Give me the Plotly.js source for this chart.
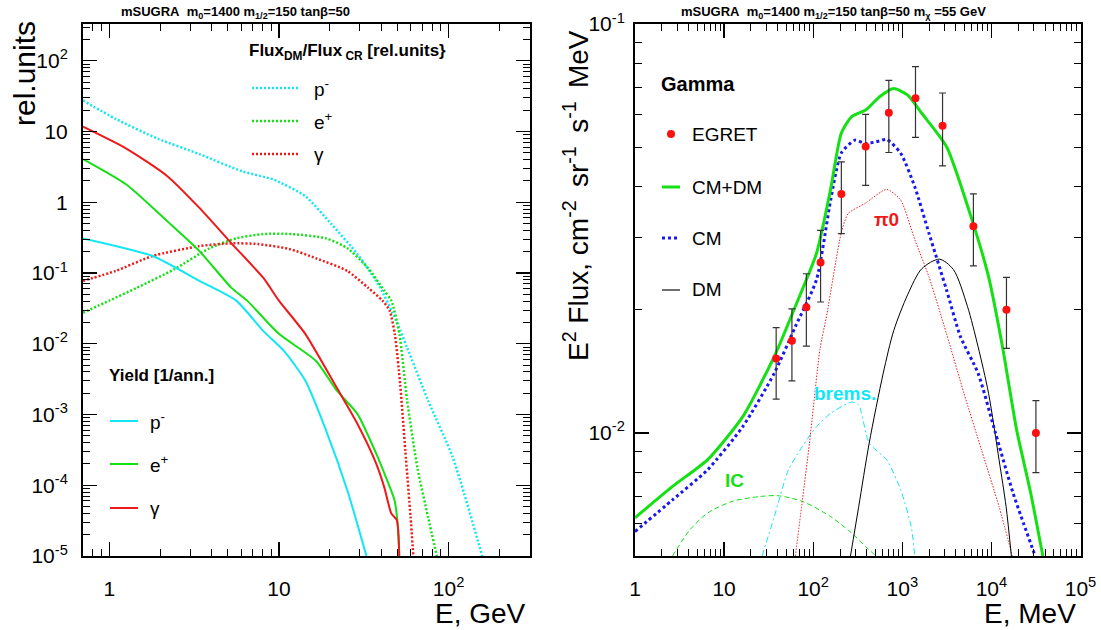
<!DOCTYPE html>
<html>
<head>
<meta charset="utf-8">
<script src="https://cdn.plot.ly/plotly-3.0.1.min.js"></script>
<style>html,body{margin:0;padding:0;background:#fff;}#plot{width:1101px;height:630px;}</style>
</head>
<body>
<div id="plot"></div>
<script>
// ---------- Left panel data (E in GeV) ----------
const yieldPbarE = [0.7, 1.8, 3.4, 5.6, 8.1, 10.7, 14.3, 19, 25.3, 32.8];
const yieldPbarV = [0.309, 0.174, 0.0776, 0.0407, 0.0151, 0.00794, 0.00302, 0.000589, 0.0000851, 0.00001];

const yieldPosE = [0.7, 1.26, 2.2, 3.4, 5.25, 6.5, 10, 16.5, 21.9, 29, 37.4, 41.8, 48, 50.3, 51.2];
const yieldPosV = [4.07, 1.78, 0.537, 0.204, 0.0617, 0.0407, 0.0138, 0.00575, 0.00219, 0.00102, 0.000282, 0.000148, 0.0000617, 0.0000257, 0.00001];

const yieldGamE = [0.7, 1.26, 2.2, 3.4, 5.25, 8.1, 10, 14.3, 21.9, 29, 37.4, 41.8, 46, 49.5, 51.2];
const yieldGamV = [11.7, 5.75, 2.34, 0.832, 0.263, 0.0851, 0.0407, 0.0138, 0.0024, 0.00074, 0.000204, 0.0000933, 0.0000398, 0.0000324, 0.00001];

const ratioPbarE = [0.7, 1.09, 1.93, 3.4, 6.05, 9.3, 14.3, 20.4, 29, 39, 49.2, 56.9, 75.7, 105.7, 158];
const ratioPbarV = [27.5, 15.1, 7.94, 4.79, 2.75, 2.09, 1.22, 0.49, 0.186, 0.066, 0.0209, 0.0089, 0.00158, 0.000251, 0.00001];

const ratioPosE = [0.7, 1.0, 1.45, 2.4, 3.9, 5.6, 8.1, 12, 19, 25.3, 33.6, 41.8, 46, 51.3, 56.9, 65.6, 75.7, 85.3];
const ratioPosV = [0.0275, 0.0407, 0.0617, 0.112, 0.224, 0.309, 0.355, 0.355, 0.309, 0.224, 0.117, 0.0562, 0.0407, 0.0138, 0.00162, 0.000174, 0.0000355, 0.00001];

const ratioGamE = [0.7, 1.09, 1.8, 3.4, 5.25, 7.5, 11.5, 16.5, 25.3, 33.6, 40.8, 44.9, 48.2, 51.8, 55.6, 59.7, 62];
const ratioGamV = [0.0776, 0.107, 0.174, 0.24, 0.263, 0.257, 0.219, 0.162, 0.107, 0.0617, 0.0407, 0.0295, 0.0138, 0.00275, 0.000309, 0.0000355, 0.00001];

// ---------- Right panel data (E in MeV) ----------
const egretE = [38.4, 57.7, 83.8, 121, 207, 388, 706, 1406, 2830, 6280, 14760, 31600];
const egretV = [0.0152, 0.0168, 0.0203, 0.0261, 0.0384, 0.0502, 0.0607, 0.0658, 0.0564, 0.032, 0.02, 0.01];
const egretErrUp = [0.0029, 0.0033, 0.0042, 0.0052, 0.0076, 0.0099, 0.0121, 0.0129, 0.0114, 0.0064, 0.004, 0.002];
const egretErrDn = [0.0031, 0.0034, 0.0040, 0.0052, 0.0077, 0.0099, 0.0122, 0.0130, 0.0114, 0.0064, 0.0039, 0.002];

const cmdmE = [1, 2.64, 6.5, 16.2, 36.6, 63.1, 109, 157, 206, 269, 388, 557, 802, 1150, 1653, 3140, 5900, 9290, 13300, 19200, 27600, 37800];
const cmdmV = [0.0062, 0.0074, 0.00859, 0.01096, 0.01538, 0.0204, 0.0275, 0.0395, 0.054, 0.0593, 0.0616, 0.0664, 0.0695, 0.067, 0.0605, 0.0501, 0.0338, 0.0241, 0.01626, 0.01017, 0.00713, 0.005];

const cmE = [1, 2.64, 6.5, 16.2, 36.6, 63.1, 109, 157, 206, 295, 388, 509, 668, 960, 1380, 1990, 3130, 4490, 7080, 11100, 17500, 30200];
const cmV = [0.00574, 0.00686, 0.00812, 0.01036, 0.014, 0.0182, 0.0237, 0.0371, 0.0483, 0.052, 0.051, 0.0515, 0.0522, 0.0483, 0.04, 0.0308, 0.0224, 0.0172, 0.014, 0.01, 0.00713, 0.00508];

const pi0E = [63.1, 75.7, 90.8, 119, 143, 206, 247, 388, 668, 960, 1380, 1990, 3130, 4920, 7740, 12190, 17180];
const pi0V = [0.005, 0.00686, 0.00944, 0.016, 0.0196, 0.0308, 0.0344, 0.0365, 0.0394, 0.0371, 0.0297, 0.0241, 0.0175, 0.0125, 0.00909, 0.0066, 0.005];

const dmE = [262, 324, 425, 611, 802, 1151, 1652, 2606, 3741, 5383, 7080, 9290, 12190, 14620, 16750];
const dmV = [0.005, 0.0066, 0.00944, 0.0140, 0.0178, 0.0218, 0.0252, 0.0266, 0.0251, 0.0204, 0.01626, 0.0125, 0.00859, 0.0066, 0.005];

const bremsE = [26.7, 36.6, 52.7, 75.7, 109, 157, 270, 324, 425, 668, 960, 1259, 1380];
const bremsV = [0.005, 0.00624, 0.00812, 0.00927, 0.01036, 0.01117, 0.0119, 0.0117, 0.00944, 0.00859, 0.00726, 0.0059, 0.005];

const icE = [2.64, 4.15, 6.55, 12.3, 25.5, 40.2, 75.7, 157, 270, 388, 509];
const icV = [0.005, 0.0058, 0.00637, 0.0068, 0.00699, 0.00702, 0.0068, 0.00624, 0.00569, 0.00527, 0.005];

// ---------- tick labels ----------
const leftXTicks = [1, 10, 100];
const leftXLabels = ['1', '10', '10<sup>2</sup>'];
const leftYTicks = [1e-5, 1e-4, 1e-3, 1e-2, 1e-1, 1, 10, 100];
const leftYLabels = ['10<sup>-5</sup>', '10<sup>-4</sup>', '10<sup>-3</sup>', '10<sup>-2</sup>', '10<sup>-1</sup>', '1', '10', '10<sup>2</sup>'];
const rightXTicks = [1, 10, 100, 1000, 10000, 100000];
const rightXLabels = ['1', '10', '10<sup>2</sup>', '10<sup>3</sup>', '10<sup>4</sup>', '10<sup>5</sup>'];
const rightYTicks = [0.01, 0.1];
const rightYLabels = ['10<sup>-2</sup>', '10<sup>-1</sup>'];

function minorVals(lo, hi) {
  const out = [];
  for (let d = lo; d <= hi; d++) {
    for (let m = 2; m <= 9; m++) out.push(m * Math.pow(10, d));
  }
  return out;
}

const CYAN = '#12e6f2', GREEN = '#14e014', RED = '#ee1a1a', BLUE = '#1818ee';
const FONT = 'Liberation Sans, Arial, Helvetica, sans-serif';

const W = 1101, H = 630;
const px = v => v / W;
const py = v => 1 - v / H;

const traces = [
  // left panel: ratios (dotted)
  {x: ratioPbarE, y: ratioPbarV, mode: 'lines', line: {color: CYAN, width: 2.5, dash: '2px,2px', shape: 'spline', smoothing: 0.6}, xaxis: 'x', yaxis: 'y'},
  {x: ratioPosE, y: ratioPosV, mode: 'lines', line: {color: GREEN, width: 2.5, dash: '2px,2px', shape: 'spline', smoothing: 0.6}, xaxis: 'x', yaxis: 'y'},
  {x: ratioGamE, y: ratioGamV, mode: 'lines', line: {color: RED, width: 2.5, dash: '2px,2px', shape: 'spline', smoothing: 0.6}, xaxis: 'x', yaxis: 'y'},
  // left panel: yields (solid)
  {x: yieldPbarE, y: yieldPbarV, mode: 'lines', line: {color: CYAN, width: 2, shape: 'spline', smoothing: 0.6}, xaxis: 'x', yaxis: 'y'},
  {x: yieldPosE, y: yieldPosV, mode: 'lines', line: {color: GREEN, width: 2, shape: 'spline', smoothing: 0.6}, xaxis: 'x', yaxis: 'y'},
  {x: yieldGamE, y: yieldGamV, mode: 'lines', line: {color: RED, width: 2, shape: 'spline', smoothing: 0.6}, xaxis: 'x', yaxis: 'y'},
  // right panel
  {x: icE, y: icV, mode: 'lines', line: {color: GREEN, width: 1, dash: '5px,3px', shape: 'spline', smoothing: 0.8}, xaxis: 'x2', yaxis: 'y2'},
  {x: bremsE, y: bremsV, mode: 'lines', line: {color: CYAN, width: 1, dash: '6px,3px,2px,3px', shape: 'spline', smoothing: 0.6}, xaxis: 'x2', yaxis: 'y2'},
  {x: pi0E, y: pi0V, mode: 'lines', line: {color: RED, width: 1, dash: '1.5px,1.5px', shape: 'spline', smoothing: 0.6}, xaxis: 'x2', yaxis: 'y2'},
  {x: dmE, y: dmV, mode: 'lines', line: {color: '#000', width: 1, shape: 'spline', smoothing: 0.8}, xaxis: 'x2', yaxis: 'y2'},
  {x: cmE, y: cmV, mode: 'lines', line: {color: BLUE, width: 3, dash: '3px,3px', shape: 'spline', smoothing: 0.6}, xaxis: 'x2', yaxis: 'y2'},
  {x: cmdmE, y: cmdmV, mode: 'lines', line: {color: GREEN, width: 3, shape: 'spline', smoothing: 0.6}, xaxis: 'x2', yaxis: 'y2'},
  {x: egretE, y: egretV, mode: 'markers', marker: {color: '#ff1010', size: 8},
   error_y: {type: 'data', symmetric: false, array: egretErrUp, arrayminus: egretErrDn, color: '#333', thickness: 1.2, width: 3.5},
   xaxis: 'x2', yaxis: 'y2'}
];

const axisCommon = {
  type: 'log', showline: true, linecolor: '#000', linewidth: 2, mirror: 'allticks',
  ticks: 'inside', ticklen: 14, tickwidth: 1.2, tickcolor: '#000',
  showgrid: false, zeroline: false, tickmode: 'array',
  tickfont: {family: FONT, size: 21, color: '#000'}
};
const minorCommon = {ticks: 'inside', ticklen: 7, tickwidth: 1, tickcolor: '#000', showgrid: false, tickmode: 'array'};

const yDom = [py(556), py(24)];

const layout = {
  width: W, height: H, margin: {l: 0, r: 0, t: 0, b: 0},
  paper_bgcolor: '#fff', plot_bgcolor: '#fff', showlegend: false,
  font: {family: FONT, color: '#000'},
  xaxis: Object.assign({}, axisCommon, {
    domain: [px(83), px(529.5)], anchor: 'y', range: [Math.log10(0.7), Math.log10(300)],
    tickvals: leftXTicks, ticktext: leftXLabels, ticklabelstandoff: 13,
    minor: Object.assign({}, minorCommon, {tickvals: [0.8, 0.9].concat(minorVals(0, 1), [200, 300])})
  }),
  yaxis: Object.assign({}, axisCommon, {
    domain: yDom, anchor: 'x', range: [-5, 2.52],
    tickvals: leftYTicks, ticktext: leftYLabels, ticklabelstandoff: 9,
    minor: Object.assign({}, minorCommon, {tickvals: minorVals(-5, 2)})
  }),
  xaxis2: Object.assign({}, axisCommon, {
    domain: [px(635), px(1080.5)], anchor: 'y2', range: [0, 5],
    tickvals: rightXTicks, ticktext: rightXLabels, ticklabelstandoff: 13,
    minor: Object.assign({}, minorCommon, {tickvals: minorVals(0, 4)})
  }),
  yaxis2: Object.assign({}, axisCommon, {
    domain: yDom, anchor: 'x2', range: [Math.log10(0.005), -1],
    tickvals: rightYTicks, ticktext: rightYLabels, ticklabelstandoff: 4,
    minor: Object.assign({}, minorCommon, {tickvals: minorVals(-3, -2)})
  }),
  annotations: [],
  shapes: []
};

function ann(text, x, y, opts) {
  layout.annotations.push(Object.assign({
    text: text, x: px(x), y: py(y), xref: 'paper', yref: 'paper', showarrow: false,
    xanchor: 'left', yanchor: 'middle', font: {family: FONT, size: 18, color: '#000'}
  }, opts || {}));
}
function seg(x0, x1, y, line) {
  layout.shapes.push({type: 'line', xref: 'paper', yref: 'paper', x0: px(x0), x1: px(x1), y0: py(y), y1: py(y), line: line});
}

// titles
ann('<b>mSUGRA\u00a0\u00a0m<sub>0</sub>=1400 m<sub>1/2</sub>=150 tanβ=50</b>', 235, 12, {xanchor: 'center', font: {family: FONT, size: 13}});
ann('<b>mSUGRA\u00a0\u00a0m<sub>0</sub>=1400 m<sub>1/2</sub>=150 tanβ=50 m<sub>χ</sub> =55 GeV</b>', 833, 12, {xanchor: 'center', font: {family: FONT, size: 13}});
// axis titles
ann('rel.units', 24, 74, {xanchor: 'center', textangle: -90, font: {family: FONT, size: 30}});
ann('E, GeV', 528, 613, {xanchor: 'right', font: {family: FONT, size: 28}});
ann('E<sup>2</sup> Flux, cm<sup>-2</sup>\u2009 sr<sup>-1</sup>\u2009 s<sup>-1</sup>\u2009 MeV', 576, 196, {xanchor: 'center', textangle: -90, font: {family: FONT, size: 28}});
ann('E, MeV', 1078, 613, {xanchor: 'right', font: {family: FONT, size: 28}});

// left legends
ann('<b>Flux<sub>DM</sub>/Flux<sub> CR</sub> [rel.units}</b>', 247, 52, {font: {family: FONT, size: 17}});
const upperLeg = [['p<sup>-</sup>', CYAN, 88], ['e<sup>+</sup>', GREEN, 121], ['γ', RED, 154]];
upperLeg.forEach(([t, c, y]) => { seg(252, 298, y, {color: c, width: 2.5, dash: '2px,2px'}); ann(t, 312, y, {font: {family: FONT, size: 19}}); });
ann('<b>Yield [1/ann.]</b>', 107, 375, {font: {family: FONT, size: 17}});
const lowerLeg = [['p<sup>-</sup>', CYAN, 421], ['e<sup>+</sup>', GREEN, 464], ['γ', RED, 508]];
lowerLeg.forEach(([t, c, y]) => { seg(110, 138, y, {color: c, width: 2}); ann(t, 148, y, {font: {family: FONT, size: 19}}); });

// right legend
ann('<b>Gamma</b>', 659, 84, {font: {family: FONT, size: 20}});
layout.shapes.push({type: 'circle', xref: 'paper', yref: 'paper', x0: px(667), x1: px(675), y0: py(138), y1: py(130), fillcolor: '#ff1010', line: {width: 0}});
ann('EGRET', 690, 134, {font: {family: FONT, size: 19}});
seg(662, 680, 187, {color: GREEN, width: 3});
ann('CM+DM', 690, 187, {font: {family: FONT, size: 19}});
seg(662, 680, 238, {color: BLUE, width: 3, dash: '3px,3px'});
ann('CM', 690, 238, {font: {family: FONT, size: 19}});
seg(662, 680, 290, {color: '#707070', width: 2});
ann('DM', 690, 290, {font: {family: FONT, size: 19}});
ann('<b>π0</b>', 886, 219, {xanchor: 'center', font: {family: FONT, size: 19, color: RED}});
ann('<b>brems.</b>', 812, 393, {font: {family: FONT, size: 19, color: '#10e8f8'}});
ann('<b>IC</b>', 723, 481, {font: {family: FONT, size: 19, color: GREEN}});

Plotly.newPlot('plot', traces, layout, {staticPlot: true, displayModeBar: false});
</script>
</body>
</html>
